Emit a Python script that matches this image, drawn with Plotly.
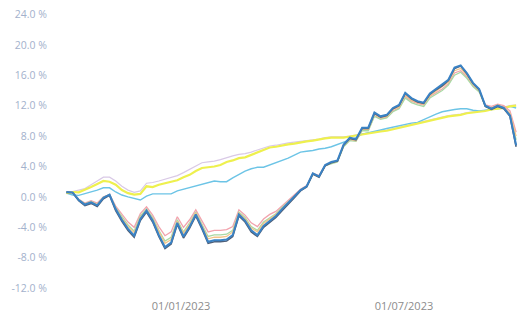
import pandas as pd
import plotly.graph_objects as go

# 5-day sampling from 30/09/2022 to 30/09/2023
dates = pd.date_range("2022-09-30", periods=74, freq="5D")

blue = [0.65,0.6,-0.4,-1.0,-0.7,-1.1,-0.1,0.3,-1.6,-3.0,
        -4.2,-5.1,-2.9,-1.8,-3.1,-5.0,-6.6,-6.0,-3.4,-5.2,
        -3.9,-2.3,-4.0,-5.9,-5.7,-5.7,-5.6,-5.0,-2.3,-3.1,
        -4.4,-5.0,-3.8,-3.1,-2.5,-1.6,-0.8,0.0,0.9,1.4,
        3.1,2.7,4.2,4.6,4.8,6.9,7.8,7.6,9.1,9.1,
        11.1,10.6,10.8,11.7,12.1,13.7,13.0,12.6,12.4,13.6,
        14.2,14.7,15.4,17.0,17.3,16.3,15.0,14.2,12.0,11.6,
        12.0,11.7,10.7,6.8]

dark = [0.6,0.55,-0.5,-1.15,-0.85,-1.25,-0.25,0.2,-1.8,-3.2,
        -4.4,-5.3,-3.1,-2.0,-3.3,-5.2,-6.8,-6.2,-3.6,-5.4,
        -4.1,-2.5,-4.2,-6.1,-5.9,-5.9,-5.8,-5.2,-2.5,-3.3,
        -4.6,-5.2,-4.0,-3.3,-2.7,-1.8,-1.0,-0.1,0.8,1.3,
        3.0,2.6,4.1,4.5,4.7,6.8,7.7,7.5,9.0,9.0,
        11.0,10.5,10.7,11.6,12.0,13.6,12.9,12.5,12.3,13.5,
        14.1,14.6,15.3,16.9,17.2,16.2,14.9,14.1,11.9,11.5,
        11.9,11.6,10.6,6.6]

pink = [0.65,0.6,-0.3,-0.8,-0.5,-0.8,0.0,0.3,-1.2,-2.3,
        -3.3,-4.0,-2.2,-1.3,-2.4,-3.9,-5.1,-4.6,-2.6,-4.0,
        -3.0,-1.7,-3.1,-4.6,-4.4,-4.4,-4.3,-3.9,-1.7,-2.4,
        -3.4,-3.9,-2.9,-2.3,-1.9,-1.2,-0.5,0.2,1.0,1.5,
        3.1,2.8,4.2,4.5,4.7,6.7,7.5,7.4,8.8,8.8,
        10.7,10.3,10.5,11.3,11.7,13.2,12.6,12.3,12.1,13.2,
        13.7,14.2,14.9,16.3,16.6,15.8,14.6,13.9,12.1,11.9,
        12.2,12.0,11.3,8.5]

green = [0.65,0.6,-0.35,-0.9,-0.6,-1.0,-0.05,0.3,-1.4,-2.6,
         -3.7,-4.5,-2.5,-1.6,-2.7,-4.4,-5.8,-5.3,-3.0,-4.6,
         -3.4,-2.0,-3.5,-5.2,-5.0,-5.0,-4.9,-4.4,-2.0,-2.7,
         -3.9,-4.4,-3.3,-2.7,-2.2,-1.4,-0.7,0.1,0.9,1.4,
         3.0,2.7,4.1,4.4,4.6,6.6,7.4,7.3,8.7,8.7,
         10.6,10.2,10.4,11.2,11.6,13.0,12.4,12.1,11.9,13.0,
         13.5,14.0,14.7,16.0,16.4,15.6,14.5,13.8,11.9,11.6,
         11.9,11.7,10.9,7.5]

orange = [0.65,0.6,-0.37,-0.93,-0.65,-1.0,-0.1,0.3,-1.5,-2.8,
          -3.9,-4.7,-2.7,-1.7,-2.9,-4.6,-6.1,-5.6,-3.2,-4.8,
          -3.6,-2.1,-3.7,-5.5,-5.3,-5.3,-5.2,-4.6,-2.1,-2.9,
          -4.1,-4.6,-3.5,-2.9,-2.3,-1.5,-0.7,0.0,0.9,1.4,
          3.0,2.6,4.1,4.5,4.7,6.8,7.6,7.4,8.9,8.9,
          10.9,10.4,10.6,11.5,11.8,13.4,12.7,12.4,12.2,13.3,
          13.9,14.4,15.1,16.6,16.9,16.0,14.8,14.0,12.0,11.7,
          12.1,11.8,11.0,8.0]

yellow = [0.5,0.65,0.6,0.9,1.3,1.7,2.1,2.0,1.6,0.9,
          0.5,0.3,0.4,1.4,1.3,1.6,1.8,2.0,2.2,2.6,
          2.9,3.4,3.8,3.9,4.0,4.2,4.6,4.8,5.1,5.2,
          5.5,5.9,6.1,6.5,6.6,6.8,6.9,7.0,7.2,7.3,
          7.4,7.6,7.7,7.8,7.8,7.8,7.95,8.1,8.2,8.3,
          8.5,8.6,8.7,8.9,9.0,9.3,9.4,9.6,9.9,10.0,
          10.3,10.4,10.6,10.7,10.8,11.0,11.1,11.2,11.3,11.5,
          11.6,11.7,11.9,12.0]

lavender = [0.5,0.7,0.8,1.1,1.6,2.1,2.6,2.6,2.1,1.4,
            0.9,0.6,0.8,1.8,1.9,2.1,2.3,2.5,2.8,3.2,
            3.6,4.1,4.5,4.6,4.7,4.9,5.2,5.4,5.6,5.7,
            5.9,6.2,6.4,6.7,6.8,7.0,7.1,7.2,7.3,7.4,
            7.5,7.6,7.8,7.9,7.9,7.9,8.0,8.2,8.3,8.4,
            8.6,8.7,8.8,9.0,9.1,9.4,9.5,9.7,10.0,10.1,
            10.4,10.5,10.7,10.8,10.9,11.1,11.2,11.3,11.4,11.6,
            11.7,11.8,12.0,12.1]

cyan = [0.5,0.25,0.2,0.4,0.6,0.9,1.2,1.2,0.65,0.25,
        0.0,-0.25,-0.4,0.1,0.4,0.4,0.4,0.4,0.8,1.0,
        1.3,1.4,1.7,1.8,2.1,2.0,2.0,2.5,3.0,3.4,
        3.7,3.9,3.9,4.2,4.4,4.7,5.1,5.5,5.9,6.0,
        6.1,6.3,6.4,6.6,6.9,7.2,7.6,7.8,8.25,8.4,
        8.6,8.8,9.0,9.2,9.4,9.6,9.7,9.8,10.2,10.6,
        10.9,11.2,11.4,11.5,11.6,11.6,11.4,11.3,11.4,11.5,
        11.6,11.7,11.9,11.7]

y_ticks = [-12, -8, -4, 0, 4, 8, 12, 16, 20, 24]
y_tick_labels = ["-12.0 %", "-8.0 %", "-4.0 %", "0.0 %", "4.0 %",
                 "8.0 %", "12.0 %", "16.0 %", "20.0 %", "24.0 %"]
x_ticks = ["2023-01-01", "2023-07-01"]
x_tick_labels = ["01/01/2023", "01/07/2023"]

fig = go.Figure()

smooth = [
    (lavender, "#d9c9e6", 1.2),
    (cyan, "#6cc4e6", 1.4),
    (yellow, "#eef04e", 2.2),
]
volatile = [
    (pink, "#f2a3ad", 1.3),
    (green, "#a9d9a3", 1.3),
    (orange, "#f3c58a", 1.3),
    (dark, "#4f5f78", 1.6),
    (blue, "#3a82c4", 2.0),
]
for vals, col, w in smooth + volatile:
    fig.add_trace(go.Scatter(x=dates, y=vals, mode="lines",
                             line=dict(color=col, width=w),
                             hoverinfo="skip", showlegend=False))

fig.update_layout(
    width=517, height=314,
    margin=dict(l=52, r=0, t=3, b=22),
    paper_bgcolor="white", plot_bgcolor="white",
    font=dict(family="Open Sans", size=11),
    showlegend=False,
)
fig.update_xaxes(
    range=["2022-09-18 07:00", "2023-09-30 17:00"],
    tickvals=x_ticks, ticktext=x_tick_labels,
    ticks="outside", ticklen=4, tickcolor="rgba(0,0,0,0)",
    showgrid=False, zeroline=False, showline=False,
    tickfont=dict(color="#8c8c8c", size=11),
)
fig.update_yaxes(
    range=[-12.5, 25.5],
    tickvals=y_ticks, ticktext=y_tick_labels,
    ticklabelstandoff=4,
    showgrid=False, zeroline=False, showline=False,
    tickfont=dict(color="#a3b1cc", size=10.5),
)

fig.write_html("out.html",
               config={"displayModeBar": False, "staticPlot": True},
               post_script="document.body.style.margin='0';document.body.style.overflow='hidden';")
